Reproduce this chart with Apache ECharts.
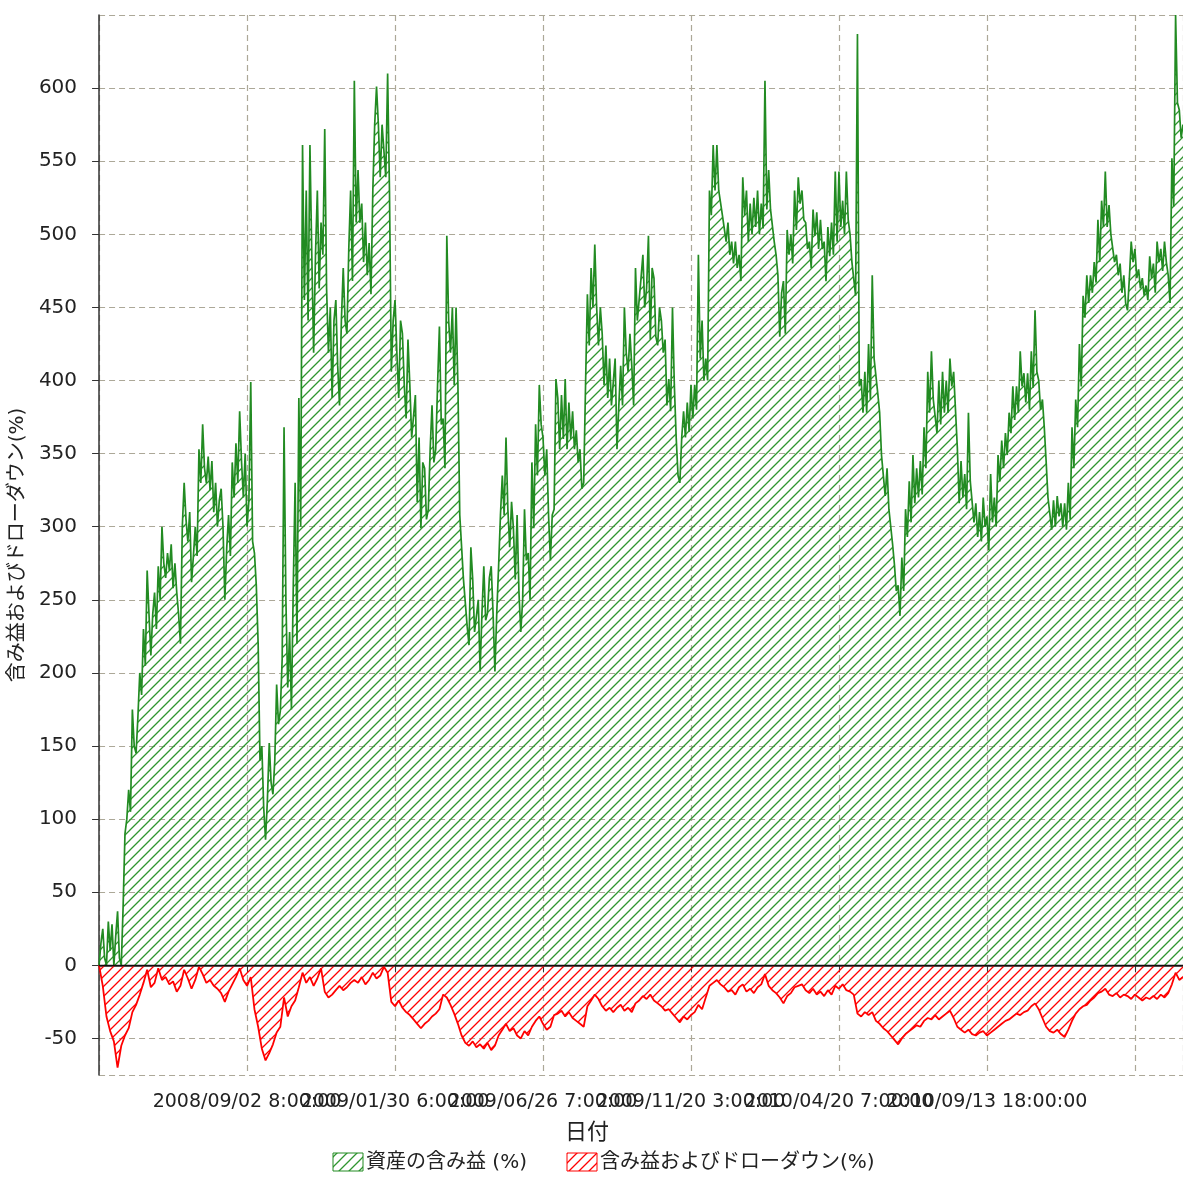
<!DOCTYPE html>
<html>
<head>
<meta charset="utf-8">
<script src="https://cdn.jsdelivr.net/npm/echarts@6/dist/echarts.min.js"></script>
<style>
  body { margin: 0; background: #fff; }
  #chart { width: 1183px; height: 1180px; }
</style>
</head>
<body>
<div id="chart"></div>
<script>
var seriesNames = ['資産の含み益 (%)', '含み益およびドローダウン(%)'];
var xAxisName = '日付';
var yAxisName = '含み益およびドローダウン(%)';

// one label every 40 steps, first and last slot left blank
var tickLabels = ['', '2008/09/02 8:00:00', '2009/01/30 6:00:00', '2009/06/26 7:00:00',
  '2009/11/20 3:00:00', '2010/04/20 7:00:00', '2010/09/13 18:00:00', ''];

// two readings (high/low swing) per step
var profit = [
  0, 15, 25, 5, 0, 30, 10, 28, 0, 20, 37, 5, 0, 40, 90, 100, 120, 105, 175, 150,
  145, 170, 200, 185, 230, 205, 270, 240, 212, 240, 255, 230, 273, 250, 300, 275, 265, 282, 270, 288,
  258, 275, 255, 240, 220, 300, 330, 305, 290, 310, 262, 280, 300, 280, 353, 330, 370, 340, 330, 348,
  325, 345, 310, 330, 300, 318, 326, 300, 250, 285, 308, 280, 344, 320, 357, 330, 379, 345, 320, 350,
  300, 318, 399, 290, 282, 260, 220, 140, 150, 108, 86, 113, 152, 125, 117, 140, 192, 165, 174, 210,
  368, 250, 190, 228, 175, 260, 330, 220, 388, 300, 561, 455, 530, 441, 561, 486, 419, 486, 530, 463,
  508, 486, 572, 463, 419, 450, 388, 441, 455, 410, 383, 441, 477, 441, 432, 490, 530, 468, 605, 508,
  544, 508, 521, 481, 508, 472, 494, 459, 530, 575, 601, 575, 539, 575, 575, 539, 610, 530, 406, 441,
  455, 419, 388, 441, 432, 397, 374, 428, 397, 361, 361, 390, 317, 361, 299, 344, 340, 305, 312, 353,
  383, 344, 353, 397, 437, 370, 374, 340, 499, 441, 419, 450, 397, 450, 397, 308, 308, 264, 264, 232,
  219, 286, 264, 228, 228, 250, 201, 241, 273, 236, 241, 265, 273, 241, 201, 241, 273, 308, 335, 308,
  361, 312, 286, 317, 299, 264, 308, 255, 228, 250, 312, 277, 282, 250, 344, 299, 370, 335, 397, 370,
  361, 335, 353, 308, 277, 308, 312, 401, 388, 353, 390, 360, 401, 353, 385, 360, 379, 353, 366, 344,
  353, 326, 330, 397, 459, 424, 477, 450, 493, 450, 424, 450, 432, 397, 424, 388, 415, 383, 383, 415,
  353, 383, 410, 383, 450, 419, 406, 432, 410, 383, 477, 441, 441, 470, 486, 450, 463, 499, 428, 477,
  470, 430, 424, 450, 441, 419, 428, 383, 401, 379, 450, 397, 361, 335, 330, 361, 379, 361, 385, 365,
  397, 374, 397, 380, 486, 415, 441, 400, 415, 400, 530, 513, 561, 530, 561, 530, 530, 513, 513, 495,
  508, 486, 495, 480, 495, 477, 486, 468, 539, 513, 530, 495, 521, 500, 525, 505, 530, 500, 521, 504,
  605, 517, 544, 517, 517, 495, 486, 472, 430, 460, 468, 432, 503, 486, 500, 480, 530, 503, 539, 521,
  530, 510, 508, 490, 495, 477, 517, 499, 515, 490, 510, 490, 495, 468, 505, 485, 508, 486, 543, 495,
  543, 505, 523, 500, 543, 510, 500, 481, 481, 458, 637, 396, 401, 378, 406, 378, 425, 387, 472, 415,
  415, 391, 378, 349, 349, 321, 340, 312, 312, 288, 274, 256, 260, 239, 279, 256, 312, 293, 331, 303,
  349, 316, 340, 320, 345, 322, 368, 340, 406, 378, 420, 387, 387, 364, 400, 370, 406, 378, 400, 378,
  415, 396, 406, 380, 354, 316, 345, 320, 336, 312, 378, 331, 331, 303, 316, 293, 310, 290, 320, 300,
  307, 284, 336, 303, 320, 300, 349, 331, 359, 340, 364, 349, 378, 364, 396, 373, 396, 378, 420, 396,
  405, 385, 405, 380, 420, 395, 448, 406, 400, 380, 387, 368, 345, 320, 321, 298, 318, 300, 321, 307,
  316, 300, 316, 298, 330, 305, 368, 340, 387, 368, 425, 396, 458, 443, 472, 453, 472, 460, 481, 467,
  510, 481, 523, 505, 543, 505, 520, 500, 500, 481, 486, 472, 480, 460, 472, 453, 448, 470, 495, 481,
  490, 470, 476, 463, 470, 458, 465, 455, 485, 470, 480, 460, 495, 481, 490, 475, 495, 481, 472, 453,
  552, 519, 650, 590, 585, 566, 575, 566
];

var drawdown = [
  0, -14, -35, -45, -52, -70, -55, -48, -43, -32,
  -27, -20, -12, -3, -15, -12, -2, -10, -8, -13,
  -11, -18, -14, -3, -9, -16, -10, -1, -6, -12,
  -10, -14, -16, -19, -25, -18, -13, -8, -2, -10,
  -14, -8, -30, -42, -57, -65, -60, -54, -46, -42,
  -22, -35, -28, -24, -15, -5, -12, -8, -14, -9,
  -2, -18, -22, -20, -17, -14, -17, -15, -12, -10,
  -12, -8, -13, -10, -5, -9, -7, -1, -5, -25,
  -28, -24, -29, -32, -34, -37, -40, -43, -40, -38,
  -35, -33, -30, -20, -22, -27, -33, -40, -48, -53,
  -55, -52, -56, -54, -57, -53, -58, -55, -48, -44,
  -40, -45, -43, -48, -50, -45, -48, -42, -38, -35,
  -40, -44, -42, -34, -33, -31, -35, -32, -36, -38,
  -40, -42, -28, -24, -20, -23, -28, -31, -29, -32,
  -29, -27, -31, -29, -32, -26, -24, -21, -23, -20,
  -24, -26, -28, -31, -30, -33, -36, -39, -35, -37,
  -34, -32, -27, -30, -22, -14, -12, -10, -13, -15,
  -18, -17, -20, -15, -13, -18, -16, -19, -15, -13,
  -6, -14, -17, -19, -22, -26, -21, -19, -15, -14,
  -13, -17, -19, -16, -20, -18, -21, -17, -20, -14,
  -16, -13, -17, -18, -20, -33, -35, -32, -34, -32,
  -38, -40, -43, -45, -48, -51, -54, -50, -47, -45,
  -43, -41, -42, -38, -36, -37, -34, -37, -35, -33,
  -31, -36, -42, -44, -46, -44, -47, -48, -46, -45,
  -48, -46, -44, -42, -40, -38, -37, -35, -33, -34,
  -32, -31, -28, -26, -30, -36, -42, -45, -46, -44,
  -47, -49, -44, -38, -33, -30, -28, -27, -24, -22,
  -19, -18, -16, -20, -21, -19, -22, -20, -21, -23,
  -20, -22, -24, -22, -23, -21, -23, -20, -22, -19,
  -13, -5, -10, -8
];

// diagonal hatch tile, lines going up to the right
function hatch(color) {
  var s = 10;
  var c = document.createElement('canvas');
  c.width = s; c.height = s;
  var ctx = c.getContext('2d');
  ctx.strokeStyle = color;
  ctx.lineWidth = 1.3;
  ctx.beginPath();
  ctx.moveTo(-2, s + 2); ctx.lineTo(s + 2, -2);
  ctx.moveTo(-2, 2); ctx.lineTo(2, -2);
  ctx.moveTo(s - 2, s + 2); ctx.lineTo(s + 2, s - 2);
  ctx.stroke();
  return { image: c, repeat: 'repeat' };
}

var green = '#228B22';
var red = '#ff0000';
var hatchGreen = '#2f962f';
var hatchRed = '#ff0000';
var font = '"DejaVu Sans", "Noto Sans CJK JP", sans-serif';
var gridColor = '#aca898';

var profitData = profit.map(function (v, k) { return [k / 2, v]; });
var drawdownData = drawdown.map(function (v, i) { return [i, v]; });

var myChart = echarts.init(document.getElementById('chart'));

var option = {
  animation: false,
  backgroundColor: '#fff',
  grid: { left: 99, right: 0, top: 15, bottom: 105 },
  xAxis: {
    type: 'value',
    min: 0,
    max: drawdown.length - 1,
    interval: 40,
    axisLine: { lineStyle: { color: '#333', width: 1.5 } },
    axisTick: { show: true, length: 7, lineStyle: { color: '#333' } },
    axisLabel: {
      margin: 18,
      fontSize: 19,
      fontFamily: font,
      color: '#222',
      showMaxLabel: false,
      formatter: function (v) { return tickLabels[v / 40] || ''; }
    },
    splitLine: { show: true, lineStyle: { color: gridColor, type: [6, 4], width: 1.2 } }
  },
  yAxis: {
    type: 'value',
    min: -75,
    max: 650,
    minInterval: 50,
    maxInterval: 50,
    offset: 4,
    name: yAxisName,
    nameLocation: 'middle',
    nameGap: 44,
    nameTextStyle: { fontSize: 20, fontFamily: font, color: '#222' },
    axisLine: { show: true, lineStyle: { color: '#333', width: 1.5 } },
    axisTick: { show: true, length: 7, lineStyle: { color: '#333' } },
    axisLabel: {
      margin: 18,
      fontSize: 20,
      fontFamily: font,
      color: '#222',
      showMinLabel: false,
      showMaxLabel: false
    },
    splitLine: { show: true, lineStyle: { color: gridColor, type: [6, 4], width: 1.2 } }
  },
  series: [
    {
      name: seriesNames[0],
      type: 'line',
      data: profitData,
      showSymbol: false,
      lineStyle: { color: green, width: 1.7 },
      itemStyle: { color: green },
      areaStyle: { color: hatch(hatchGreen), opacity: 1 }
    },
    {
      name: seriesNames[1],
      type: 'line',
      data: drawdownData,
      showSymbol: false,
      lineStyle: { color: red, width: 1.8 },
      itemStyle: { color: red },
      areaStyle: { color: hatch(hatchRed), opacity: 1 },
      markLine: {
        silent: true,
        symbol: ['none', 'none'],
        label: { show: false },
        lineStyle: { color: '#111', width: 1.3, type: 'solid' },
        data: [{ yAxis: 0 }]
      }
    }
  ],
  graphic: [
    {
      type: 'text', x: 587, y: 1133,
      style: { text: xAxisName, align: 'center', verticalAlign: 'middle', font: '22px ' + font, fill: '#222' }
    },
    {
      type: 'rect', shape: { x: 333, y: 1153, width: 30, height: 18 },
      style: { fill: hatch(hatchGreen), stroke: green, lineWidth: 1 }
    },
    {
      type: 'text', x: 366, y: 1163,
      style: { text: seriesNames[0], verticalAlign: 'middle', font: '20px ' + font, fill: '#222' }
    },
    {
      type: 'rect', shape: { x: 567, y: 1153, width: 30, height: 18 },
      style: { fill: hatch(hatchRed), stroke: red, lineWidth: 1 }
    },
    {
      type: 'text', x: 600, y: 1163,
      style: { text: seriesNames[1], verticalAlign: 'middle', font: '20px ' + font, fill: '#222' }
    }
  ]
};

myChart.setOption(option);
</script>
</body>
</html>
